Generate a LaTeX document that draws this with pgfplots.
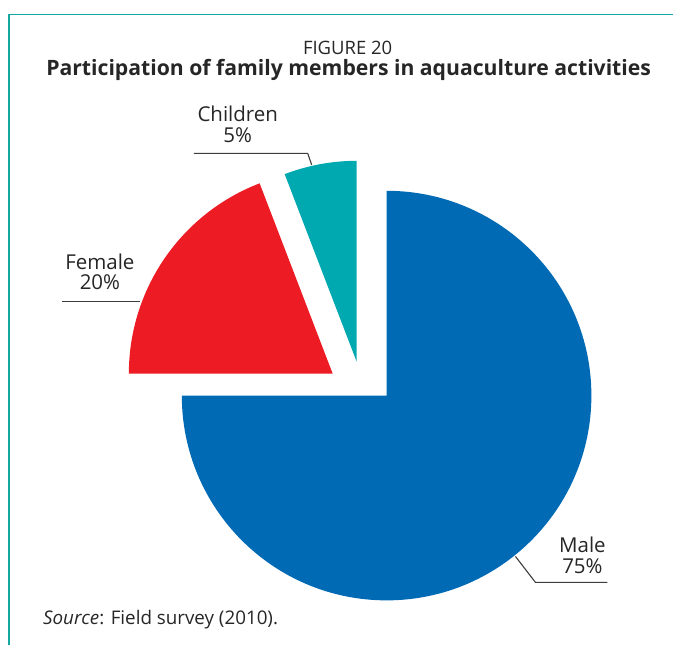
\documentclass[border=0pt]{standalone}
\usepackage{pgfplots}
\pgfplotsset{compat=1.18}
\usepackage{fontspec}
\setmainfont{Open Sans}
\definecolor{male}{RGB}{0,106,180}
\definecolor{female}{RGB}{237,28,36}
\definecolor{child}{RGB}{0,169,176}
\definecolor{framec}{RGB}{20,168,160}
\definecolor{lead}{RGB}{60,60,60}
\begin{document}
\begin{tikzpicture}
\begin{axis}[
  scale only axis, width=674pt, height=646pt,
  xmin=0, xmax=674, ymin=0, ymax=646,
  hide axis, clip=false,
]
% invisible bounding box
\path (axis cs:0,0) rectangle (axis cs:674,646);
% frame
\draw[framec, line width=1.4pt] (axis cs:9,0) -- (axis cs:9,631.5) -- (axis cs:674,631.5);
% slices: apex x, apex y, radius, start/end angle (Male 75%, Female 20%, Children 5%)
\fill[male] (axis cs:387,250) -- ++(90:205) arc[start angle=90, end angle=-180, radius=205] -- cycle;
\fill[female] (axis cs:333,272) -- ++(111:204) arc[start angle=111, end angle=180, radius=204] -- cycle;
\fill[child] (axis cs:357,284) -- ++(90:201) arc[start angle=90, end angle=111, radius=201] -- cycle;
% leader lines
\draw[lead, line width=1.1pt] (axis cs:194,492.5) -- (axis cs:308,492.5) -- (axis cs:312,481);
\draw[lead, line width=1.1pt] (axis cs:62,344) -- (axis cs:140,344);
\draw[lead, line width=1.1pt] (axis cs:516,89) -- (axis cs:536,63) -- (axis cs:608,63);
% labels
\node[anchor=base, inner sep=0pt, text=black!85] at (axis cs:348,591) {\fontsize{18.5}{21}\selectfont FIGURE 20};
\node[anchor=base, inner sep=0pt, text=black!85] at (axis cs:349,570) {\fontsize{21.2}{24}\selectfont\bfseries Participation of family members in aquaculture activities};
\node[anchor=base, inner sep=0pt, text=black!85] at (axis cs:238,524) {\fontsize{20.5}{24}\selectfont Children};
\node[anchor=base, inner sep=0pt, text=black!85] at (axis cs:238,503) {\fontsize{20.5}{24}\selectfont 5\%};
\node[anchor=base, inner sep=0pt, text=black!85] at (axis cs:100,376) {\fontsize{20.5}{24}\selectfont Female};
\node[anchor=base, inner sep=0pt, text=black!85] at (axis cs:100,356) {\fontsize{20.5}{24}\selectfont 20\%};
\node[anchor=base, inner sep=0pt, text=black!85] at (axis cs:583,93) {\fontsize{20.5}{24}\selectfont Male};
\node[anchor=base, inner sep=0pt, text=black!85] at (axis cs:583,72) {\fontsize{20.5}{24}\selectfont 75\%};
\node[anchor=base west, inner sep=0pt, text=black!85] at (axis cs:43,21) {\fontsize{18.8}{22}\selectfont \textit{Source}: Field survey (2010).};
\end{axis}
\end{tikzpicture}
\end{document}
